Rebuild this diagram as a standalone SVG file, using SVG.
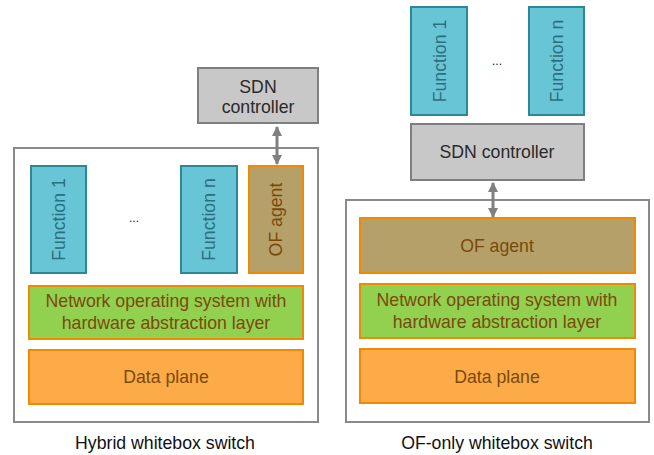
<svg xmlns="http://www.w3.org/2000/svg" width="654" height="455" viewBox="0 0 654 455">
<style>
text{font-family:"Liberation Sans",Arial,sans-serif;font-size:17.7px;text-anchor:middle;dominant-baseline:central}
.outer{fill:#fff;stroke:#8a8a8a;stroke-width:2}
.fn{fill:#68c5d6;stroke:#2e8796;stroke-width:2}
.fnt{fill:#2c6f80}
.sdn{fill:#c8c8c8;stroke:#7f7f7f;stroke-width:2}
.sdnt{fill:#2a2a2a}
.of{fill:#b5a06a;stroke:#f08a00;stroke-width:2}
.nos{fill:#92d050;stroke:#f08a00;stroke-width:2}
.dp{fill:#fdaa48;stroke:#f08a00;stroke-width:2}
.bt{fill:#7a4a0c}
.lbl{fill:#111}
.dots{fill:#222;font-size:12px}
.conn{stroke:#808080;stroke-width:3;fill:none;marker-start:url(#ah);marker-end:url(#ah)}
</style>
<defs>
<marker id="ah" viewBox="0 0 10 10" refX="9" refY="5" markerWidth="3.4" markerHeight="3.4" orient="auto-start-reverse" markerUnits="strokeWidth">
<path d="M0,0 L10,5 L0,10 z" fill="#808080"/>
</marker>
</defs>

<g id="hybrid-switch">
<rect class="outer" x="14" y="148" width="304" height="274"/>
</g>
<g id="ofonly-switch">
<rect class="outer" x="346" y="200" width="303" height="222"/>
</g>

<g id="sdn-left">
<rect class="sdn" x="198" y="68" width="120" height="55"/>
<text class="sdnt" x="258" y="87">SDN</text>
<text class="sdnt" x="258" y="107">controller</text>
</g>
<g id="fn1-left">
<rect class="fn" x="31" y="166" width="55" height="107"/>
<text class="fnt" transform="translate(59,219.5) rotate(-90)">Function 1</text>
</g>
<g id="dots-left"><text class="dots" x="134" y="218">...</text></g>
<g id="fnn-left">
<rect class="fn" x="181" y="166" width="56" height="107"/>
<text class="fnt" transform="translate(209,219.5) rotate(-90)">Function n</text>
</g>
<g id="of-left">
<rect class="of" x="249" y="166" width="54" height="107"/>
<text class="bt" transform="translate(276,219.5) rotate(-90)">OF agent</text>
</g>
<g id="nos-left">
<rect class="nos" x="29" y="286" width="274" height="53"/>
<text class="bt" x="166" y="301">Network operating system with</text>
<text class="bt" x="166" y="323">hardware abstraction layer</text>
</g>
<g id="dp-left">
<rect class="dp" x="29" y="350" width="274" height="54"/>
<text class="bt" x="166" y="377">Data plane</text>
</g>

<g id="fn1-right">
<rect class="fn" x="411" y="7" width="56" height="108"/>
<text class="fnt" transform="translate(440,61) rotate(-90)">Function 1</text>
</g>
<g id="dots-right"><text class="dots" x="497" y="61">...</text></g>
<g id="fnn-right">
<rect class="fn" x="529" y="7" width="55" height="108"/>
<text class="fnt" transform="translate(557,61) rotate(-90)">Function n</text>
</g>
<g id="sdn-right">
<rect class="sdn" x="411" y="124" width="173" height="56"/>
<text class="sdnt" x="497" y="152">SDN controller</text>
</g>
<g id="of-right">
<rect class="of" x="360" y="218" width="275" height="55"/>
<text class="bt" x="497" y="246">OF agent</text>
</g>
<g id="nos-right">
<rect class="nos" x="360" y="284" width="275" height="54"/>
<text class="bt" x="497" y="300">Network operating system with</text>
<text class="bt" x="497" y="322">hardware abstraction layer</text>
</g>
<g id="dp-right">
<rect class="dp" x="360" y="349" width="275" height="54"/>
<text class="bt" x="497" y="377">Data plane</text>
</g>

<g id="labels">
<text class="lbl" x="165" y="443">Hybrid whitebox switch</text>
<text class="lbl" x="497" y="443">OF-only whitebox switch</text>
</g>

<g id="connectors">
<line class="conn" x1="277" y1="127" x2="277" y2="164"/>
<line class="conn" x1="493" y1="183" x2="493" y2="217"/>
</g>
</svg>
